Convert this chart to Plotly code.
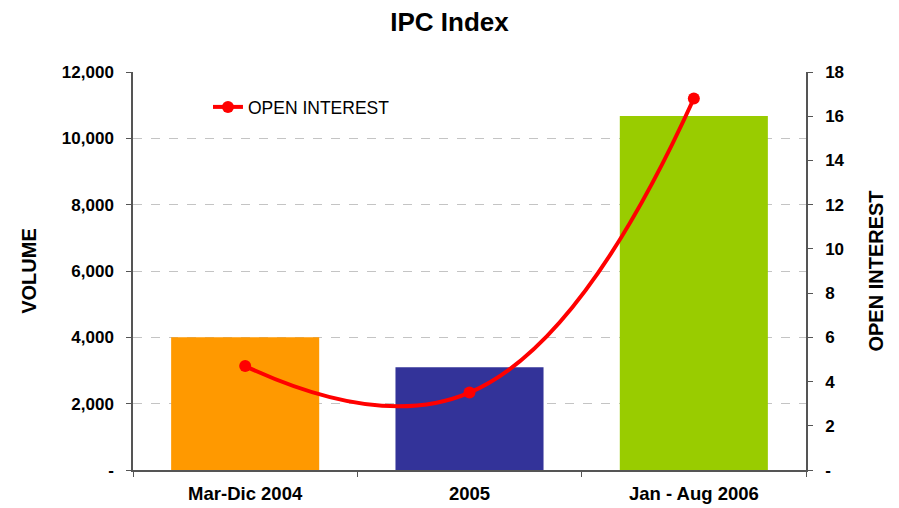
import plotly.graph_objects as go

categories = ["Mar-Dic 2004", "2005", "Jan - Aug 2006"]
volume = [4000, 3100, 10670]
open_interest = [4.7, 3.5, 16.8]
bar_colors = ["#FF9900", "#333399", "#99CC00"]
vol_ticks = [0, 2000, 4000, 6000, 8000, 10000, 12000]
vol_ticktext = ["-", "2,000", "4,000", "6,000", "8,000", "10,000", "12,000"]
oi_ticks = [0, 2, 4, 6, 8, 10, 12, 14, 16, 18]
oi_ticktext = ["-", "2", "4", "6", "8", "10", "12", "14", "16", "18"]

FONT = "Liberation Sans, Arial, sans-serif"
YTICKFONT = dict(family=FONT, size=17, color="black", weight="bold")
XTICKFONT = dict(family=FONT, size=18.5, color="black", weight="bold")

fig = go.Figure()
fig.add_trace(go.Bar(
    x=categories, y=volume, marker=dict(color=bar_colors, line=dict(width=0)),
    showlegend=False, name="VOLUME", yaxis="y"))
fig.add_trace(go.Scatter(
    x=categories, y=open_interest, mode="lines+markers", name="OPEN INTEREST",
    line=dict(color="#FF0000", width=4, shape="spline", smoothing=1.3),
    marker=dict(color="#FF0000", size=12), yaxis="y2"))

fig.update_layout(
    width=899, height=508,
    margin=dict(l=125, r=101, t=64, b=46),
    paper_bgcolor="white", plot_bgcolor="white",
    title=dict(text="IPC Index", x=441.5 / 899, xanchor="center", y=1 - 14 / 508, yanchor="middle",
               font=dict(family=FONT, size=26, color="black", weight="bold")),
    bargap=0.34,
    font=dict(family=FONT, color="black"),
    xaxis=dict(showline=True, linecolor="#555555", linewidth=1.5, ticks="outside",
               tickson="boundaries", ticklen=5, tickcolor="#555555",
               tickfont=XTICKFONT, automargin=False, ticklabelstandoff=6),
    yaxis=dict(range=[0, 12000], tickvals=vol_ticks, ticktext=vol_ticktext,
               showline=True, linecolor="#555555", linewidth=1.5, ticks="outside",
               ticklen=5, tickcolor="#555555",
               showgrid=True, gridcolor="#C4C4C4", griddash="dash", gridwidth=1,
               zeroline=False, automargin=False, ticklabelstandoff=9,
               tickfont=YTICKFONT,
               title=dict(text="VOLUME", font=dict(family=FONT, size=20, color="black", weight="bold"), standoff=20)),
    yaxis2=dict(range=[0, 18], tickvals=oi_ticks, ticktext=oi_ticktext, overlaying="y", side="right",
                showline=True, linecolor="#555555", linewidth=1.5, ticks="outside",
                ticklen=5, tickcolor="#555555", showgrid=False, zeroline=False, automargin=False,
                ticklabelstandoff=9,
                tickfont=YTICKFONT,
                title=dict(text="OPEN INTEREST", font=dict(family=FONT, size=20, color="black", weight="bold"), standoff=25)),
    legend=dict(x=0.1114, y=0.912, xanchor="left", yanchor="middle", bgcolor="rgba(0,0,0,0)",
                font=dict(family=FONT, size=17.5, color="black")),
)

fig.write_html("out.html")
